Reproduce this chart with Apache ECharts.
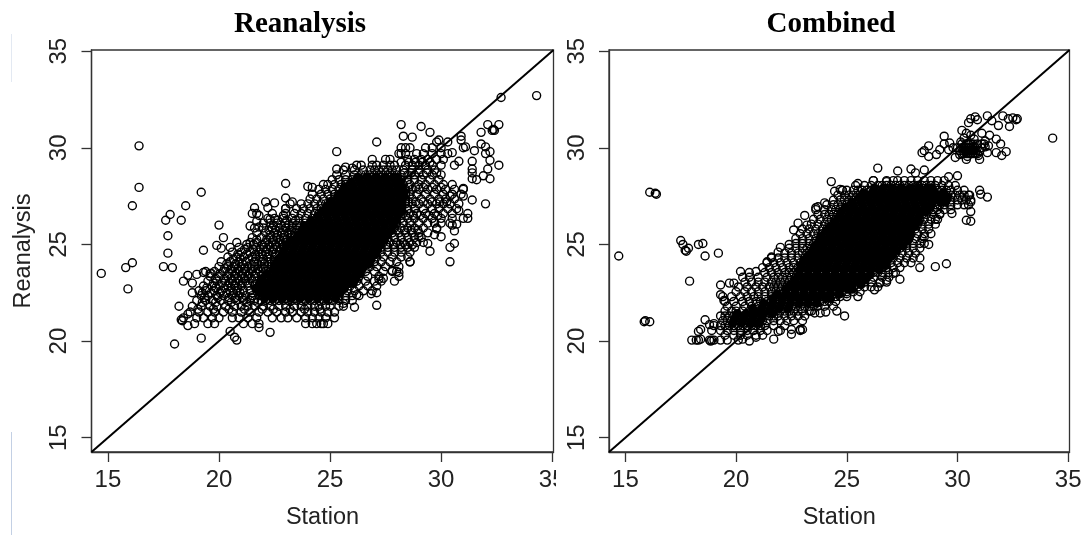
<!DOCTYPE html>
<html><head><meta charset="utf-8">
<style>html,body{margin:0;padding:0;background:#fff}#c{width:1085px;height:535px}</style>
<script src="https://cdn.jsdelivr.net/npm/echarts@6/dist/echarts.min.js"></script>
</head><body><div id="c"></div>
<script>
const panelTitles = ['Reanalysis', 'Combined'];
const xAxisName = 'Station';
const yAxisName = 'Reanalysis';
const tickValues = [15, 20, 25, 30, 35];
const axisMin = 14.26;
const axisMax = 35.06;
const identityLine = [[14.26, 14.26], [35.06, 35.06]];

const reanalysisOutliers = [[14.7,23.5],[15.8,23.8],[16.1,24.05],[15.9,22.7],[16.1,27],[16.4,27.95],[16.4,30.1],[17.5,23.85],[17.9,23.8],[17.7,24.55],[17.7,25.45],[17.6,26.25],[17.8,26.55],[18.3,26.25],[18.5,27],[19.2,27.7],[19.3,24.7],[18,19.85],[19.2,20.15],[34.3,32.7],[32.7,32.6],[20.5,20.5],[20.7,20.2],[20.8,20.05],[22.3,20.45],[21.8,20.7],[18.6,20.8],[18.3,21.1],[18.35,21.05],[18.2,21.8],[18.6,21.4],[18.8,22.5],[18.8,23],[18.4,23.1],[18.6,23.4],[19,23.45],[19.3,23.55],[19.6,23.5],[19.9,24.95],[20.1,24.8],[20.2,25.35],[20,26],[23,28.15],[24,28],[24.2,27.95],[24.7,28.1],[23,27.4],[22.1,27.2],[22.5,27.15],[23.3,27.2],[22.2,26.9],[21.6,26.9],[21.5,26.6],[21.8,26.5],[23,26.85],[22.9,26.5],[25.3,28.9],[25.7,29],[26,28.95],[21.4,25.95],[21.7,26.2],[21.8,25.9],[22.3,26.3],[28.2,31.2],[29.1,31.1],[27.1,30.3],[25.3,29.8],[29.5,30.8],[28.3,30.6],[28.7,30.55],[31.8,30.8],[32.1,31.2],[32.6,31.2],[32.3,30.9],[32.4,30.9],[32.35,30.95],[30.9,30.6],[30.9,30.4],[29.9,30.4],[29.8,30.3],[30.3,30.3],[31.1,30.05],[31,30],[31.8,30.2],[32,30.05],[32.2,29.8],[32,29.7],[31.5,29.85],[32.2,29.35],[32.6,29.1],[32.1,28.9],[31.9,28.55],[32.2,28.4],[31.4,29.3],[31.4,28.9],[31.4,28.7],[31.4,28.4],[31.6,28.35],[30.8,29.3],[30.6,29.1],[30.5,29.75],[31,27.9],[31.4,27.3],[32,27.1],[31,27.5],[31.2,26.35],[31,26.35],[30.8,26.75],[30.4,27.5],[30.5,26],[30.7,26.05],[30.6,25.7],[30.6,25.05],[30.4,24.85],[30.4,24.1],[30,25.4],[29.7,25.5],[29.8,25.8],[29.5,24.65],[29.4,25.05],[29,25.4],[28.6,24.1],[28.1,23.55],[27.8,23.65],[27.9,23.1],[27.4,23.25],[27.2,23.2],[27.1,22.5],[27.1,21.85],[26.1,21.75],[25.6,21.95],[24.6,20.9],[26.2,22.4],[26.85,22.45]];

const reanalysisRows = [
[20.9,18.9,19.5,19.8,21.1,21.5,21.8,23.9,24.2,24.4,24.7,24.9],
[21.2,18.4,19,19.3,19.7,20,20.6,20.9,21.3,21.7,22.4,22.8,23.1,23.5,23.9,24.2,24.5,24.8,25.2],
[21.5,18.7,19.1,19.5,19.8,20.2,20.6,21,21.4,21.8,22.2,22.6,23,23.3,23.7,24,24.3,24.6,24.9,25.2],
[21.8,18.8,19.2,19.6,19.9,20.3,20.7,21,21.3,21.6,22,22.3,22.7,23,23.4,23.7,24,24.3,24.5,24.8,25,25.4,25.6],
[22.1,19,19.4,19.7,20.1,20.4,20.8,21.1,21.4,21.6,21.9,22.1,22.3,22.5,22.7,22.9,23.1,23.3,23.5,23.7,23.9,24.1,24.3,24.5,24.7,24.9,25.1,25.4,25.7,26],
[22.35,19.2,19.5,19.9,20.2,20.6,20.9,21.2,21.5,21.8,22,22.2,22.4,22.6,22.8,23,23.2,23.4,23.6,23.8,24,24.2,24.4,24.6,24.8,25,25.2,25.4,25.7,26,26.3],
[22.6,19.1,19.4,19.8,20.1,20.5,20.8,21.1,21.4,21.7,21.9,22.1,22.3,22.5,22.7,22.9,23.1,23.3,23.5,23.7,23.9,24.1,24.3,24.5,24.7,24.9,25.1,25.3,25.5,25.8,26.1,26.5,26.9],
[22.85,19.3,19.7,20,20.4,20.7,21,21.3,21.6,21.8,22,22.2,22.4,22.6,22.8,23,23.2,23.4,23.6,23.8,24,24.2,24.4,24.6,24.8,25,25.2,25.4,25.6,25.9,26.3,26.7,27.1],
[23.1,19.5,19.9,20.3,20.6,20.9,21.2,21.5,21.7,21.9,22.1,22.3,22.5,22.7,22.9,23.1,23.3,23.5,23.7,23.9,24.1,24.3,24.5,24.7,24.9,25.1,25.3,25.5,25.7,25.9,26.2,26.6,27,27.3],
[23.35,19.6,20,20.4,20.7,21,21.3,21.6,21.9,22.2,22.4,22.6,22.8,23,23.2,23.4,23.6,23.8,24,24.2,24.4,24.6,24.8,25,25.2,25.4,25.6,25.8,26,26.3,26.7,27.2,28.1],
[23.6,19.4,19.8,20.2,20.6,20.9,21.2,21.5,21.8,22.1,22.3,22.5,22.7,22.9,23.1,23.3,23.5,23.7,23.9,24.1,24.3,24.5,24.7,24.9,25.1,25.3,25.5,25.7,25.9,26.1,26.3,26.6,27,27.4,27.8,28],
[23.85,20,20.4,20.7,21,21.3,21.6,21.9,22.2,22.5,22.7,22.9,23.1,23.3,23.5,23.7,23.9,24.1,24.3,24.5,24.7,24.9,25.1,25.3,25.5,25.7,25.9,26.1,26.3,26.5,26.8,27.1,27.5,28.1],
[24.1,20.1,20.5,20.9,21.2,21.6,21.9,22.2,22.5,22.7,22.9,23.1,23.3,23.5,23.7,23.9,24.1,24.3,24.5,24.7,24.9,25.1,25.3,25.5,25.7,25.9,26.1,26.3,26.5,26.7,27,27.3,27.7,28,28.6],
[24.35,20.4,20.8,21.1,21.5,21.8,22.2,22.5,22.8,23,23.2,23.4,23.6,23.8,24,24.2,24.4,24.6,24.8,25,25.2,25.4,25.6,25.8,26,26.2,26.4,26.6,26.8,27.1,27.4,27.8,28.2,28.5],
[24.6,20.6,21,21.4,21.8,22.1,22.4,22.7,23,23.2,23.4,23.6,23.8,24,24.2,24.4,24.6,24.8,25,25.2,25.4,25.6,25.8,26,26.2,26.4,26.6,26.8,27,27.3,27.6,27.9,28.2,28.6],
[24.85,20.5,20.9,21.3,21.7,22,22.3,22.6,22.9,23.1,23.3,23.5,23.7,23.9,24.1,24.3,24.5,24.7,24.9,25.1,25.3,25.5,25.7,25.9,26.1,26.3,26.5,26.7,26.9,27.1,27.3,27.6,27.9,28.2,28.5,28.8],
[25.1,20.8,21.4,21.7,22.1,22.4,22.7,23,23.2,23.4,23.6,23.8,24,24.2,24.4,24.6,24.8,25,25.2,25.4,25.6,25.8,26,26.2,26.4,26.6,26.8,27,27.2,27.4,27.7,28,28.3,28.6,28.9,29.2],
[25.35,21.5,21.9,22.3,22.6,22.9,23.2,23.4,23.6,23.8,24,24.2,24.4,24.6,24.8,25,25.2,25.4,25.6,25.8,26,26.2,26.4,26.6,26.8,27,27.2,27.4,27.6,27.9,28.2,28.5,28.8,29.1],
[25.6,21.7,22.1,22.5,22.8,23.1,23.4,23.6,23.8,24,24.2,24.4,24.6,24.8,25,25.2,25.4,25.6,25.8,26,26.2,26.4,26.6,26.8,27,27.2,27.4,27.6,27.8,28.1,28.4,28.7,29,29.4],
[25.85,21.6,22,22.4,22.7,23,23.3,23.6,23.8,24,24.2,24.4,24.6,24.8,25,25.2,25.4,25.6,25.8,26,26.2,26.4,26.6,26.8,27,27.2,27.4,27.6,27.9,28.2,28.5,28.8,29.2,29.8],
[26.1,22,22.3,22.6,23,23.3,23.6,23.9,24.1,24.3,24.5,24.7,24.9,25.1,25.3,25.5,25.7,25.9,26.1,26.3,26.5,26.7,26.9,27.1,27.3,27.5,27.7,28,28.3,28.6,29,29.4,29.7,30,30.4],
[26.35,22.2,22.5,22.9,23.3,23.6,23.9,24.2,24.4,24.6,24.8,25,25.2,25.4,25.6,25.8,26,26.2,26.4,26.6,26.8,27,27.2,27.4,27.6,27.8,28,28.2,28.5,28.8,29.2,29.6,30,30.5],
[26.6,21.7,22.4,23,23.4,23.7,24,24.3,24.5,24.7,24.9,25.1,25.3,25.5,25.7,25.9,26.1,26.3,26.5,26.7,26.9,27.1,27.3,27.5,27.7,27.9,28.1,28.3,28.6,28.9,29.3,29.7,30.1,30.5,31.2],
[26.85,23,23.5,23.8,24.1,24.4,24.6,24.8,25,25.2,25.4,25.6,25.8,26,26.2,26.4,26.6,26.8,27,27.2,27.4,27.6,27.8,28,28.2,28.5,28.8,29.2,29.6,29.9,30.3,30.7],
[27.1,23.2,23.7,24,24.3,24.6,24.8,25,25.2,25.4,25.6,25.8,26,26.2,26.4,26.6,26.8,27,27.2,27.4,27.6,27.8,28,28.2,28.4,28.7,29,29.4,29.8,30.1,30.4,30.8],
[27.35,24.1,24.4,24.7,25,25.2,25.4,25.6,25.8,26,26.2,26.4,26.6,26.8,27,27.2,27.4,27.6,27.8,28,28.2,28.4,28.7,29.1,29.5,29.9,30.2,30.6],
[27.6,24.2,24.6,24.9,25.2,25.4,25.6,25.8,26,26.2,26.4,26.6,26.8,27,27.2,27.4,27.6,27.8,28,28.2,28.4,28.6,28.9,29.3,29.7,30.1,30.5,30.9],
[27.85,24.5,24.8,25.1,25.4,25.6,25.8,26,26.2,26.4,26.6,26.8,27,27.2,27.4,27.6,27.8,28,28.2,28.4,28.7,29,29.4,29.8,30.2,30.6,31],
[28.1,24.9,25.2,25.5,25.7,25.9,26.1,26.3,26.5,26.7,26.9,27.1,27.3,27.5,27.7,27.9,28.1,28.3,28.6,29,29.3,29.7,30.1,30.5],
[28.35,25.1,25.4,25.7,26,26.2,26.4,26.6,26.8,27,27.2,27.4,27.6,27.8,28,28.2,28.5,28.8,29.1,29.5,29.9],
[28.6,25.3,25.7,26.1,26.4,26.6,26.8,27,27.2,27.4,27.6,27.8,28,28.2,28.5,28.8,29.2,29.6,30],
[28.85,25.6,26.1,26.5,26.8,27,27.2,27.4,27.6,27.8,28,28.3,28.7,29,29.4,29.7],
[29.1,26.2,26.4,26.9,27.1,27.4,27.7,27.9,28.4,28.7,29,29.3,29.6,30],
[29.4,26.9,27.5,27.7,28.5,28.8,29.1,29.4,29.8,30.1],
[29.7,28.1,28.2,28.4,28.9,29.2,29.6,30,30.3],
[30,28.2,28.4,28.6,29.3,29.6,30],
[21.65,19.05,19.75,20.45,21.15,21.95,22.45,23.2,23.85,24.55],
[22,19.25,19.85,20.55,21.25,21.75],
[22.25,19.35,19.95,20.45,20.75,21.05,21.45],
[22.5,19.25,19.65,20.05,20.35,20.65,20.95],
[22.75,19.45,19.85,20.25,20.55,20.85],
[23,19.75,20.15,20.45,20.75,21.05,21.3],
[23.25,19.85,20.25,20.55,20.85,21.15,21.45],
[23.5,19.65,20.05,20.45,20.75,21.05,21.35,21.65],
[23.75,20.25,20.55,20.85,21.15,21.45,21.75,22],
[24,20.35,20.75,21.05,21.45,21.75,22.05,22.35],
[24.25,20.65,20.95,21.35,21.65,22,22.3],
[24.5,20.85,21.25,21.65,21.95,22.25,22.55],
[24.75,21.15,21.55,21.85,22.15,22.45,22.75],
[25,21.25,21.55,21.95,22.25,22.55,22.85],
[25.25,21.7,22.15,22.45,22.75,23.05],
[25.5,22.3,22.65,22.95,23.25],
[25.75,22.25,22.55,22.9,23.2,23.5],
[26,22.45,22.8,23.15,23.5],
[26.25,22.65,23.05,23.45],
[24.98,27.55,27.85,28.15,28.4,28.7],
[25.75,28,28.35,28.65,28.95],
[26.5,28.4,28.75,29.05,29.45,29.85],
[27.2,28.55,28.85,29.2,29.6,29.95,30.25],
[27.95,28.55,28.85,29.2,29.6,30],
[28.7,28.35,28.65,29,29.35,29.8],
[29.25,28.2,28.55,28.85,29.15,29.5]
];

const reanalysisCoreRows = [
[22.2,22.05,22.45,22.85,23.25,23.65,24.05,24.45,24.85,25.25],
[22.48,21.85,22.25,22.65,23.05,23.45,23.85,24.25,24.65,25.05,25.45],
[22.72,21.65,22.05,22.45,22.85,23.25,23.65,24.05,24.45,24.85,25.25,25.65],
[22.98,21.85,22.25,22.65,23.05,23.45,23.85,24.25,24.65,25.05,25.45,25.85,26.05],
[23.22,21.95,22.35,22.75,23.15,23.55,23.95,24.35,24.75,25.15,25.55,25.95,26.15],
[23.48,22.15,22.55,22.95,23.35,23.75,24.15,24.55,24.95,25.35,25.75,26.15,26.35],
[23.72,22.45,22.85,23.25,23.65,24.05,24.45,24.85,25.25,25.65,26.05,26.45],
[23.98,22.55,22.95,23.35,23.75,24.15,24.55,24.95,25.35,25.75,26.15,26.55,26.75],
[24.22,22.65,23.05,23.45,23.85,24.25,24.65,25.05,25.45,25.85,26.25,26.65,26.85],
[24.48,22.85,23.25,23.65,24.05,24.45,24.85,25.25,25.65,26.05,26.45,26.85,27.05],
[24.72,22.95,23.35,23.75,24.15,24.55,24.95,25.35,25.75,26.15,26.55,26.95,27.15],
[24.98,23.05,23.45,23.85,24.25,24.65,25.05,25.45,25.85,26.25,26.65,27.05,27.25],
[25.22,23.25,23.65,24.05,24.45,24.85,25.25,25.65,26.05,26.45,26.85,27.25,27.45],
[25.48,23.55,23.95,24.35,24.75,25.15,25.55,25.95,26.35,26.75,27.15,27.55],
[25.72,23.75,24.15,24.55,24.95,25.35,25.75,26.15,26.55,26.95,27.35,27.75],
[25.98,23.85,24.25,24.65,25.05,25.45,25.85,26.25,26.65,27.05,27.45,27.85],
[26.22,24.15,24.55,24.95,25.35,25.75,26.15,26.55,26.95,27.35,27.75,27.95],
[26.48,24.45,24.85,25.25,25.65,26.05,26.45,26.85,27.25,27.65,28.05],
[26.72,24.65,25.05,25.45,25.85,26.25,26.65,27.05,27.45,27.85,28.25],
[26.98,24.85,25.25,25.65,26.05,26.45,26.85,27.25,27.65,28.05,28.25],
[27.22,25.05,25.45,25.85,26.25,26.65,27.05,27.45,27.85,28.25],
[27.48,25.35,25.75,26.15,26.55,26.95,27.35,27.75,28.15,28.35],
[27.72,25.55,25.95,26.35,26.75,27.15,27.55,27.95,28.35],
[27.98,25.65,26.05,26.45,26.85,27.25,27.65,28.05,28.25],
[28.22,25.95,26.35,26.75,27.15,27.55,27.95,28.15],
[28.48,26.25,26.65,27.05,27.45,27.85,28.05]
];

const combinedOutliers = [[14.7,24.4],[15.85,21],[15.9,21.05],[16.1,21],[16.1,27.7],[16.4,27.6],[16.35,27.65],[17.5,25.2],[17.6,25],[17.7,24.7],[17.75,24.65],[17.85,24.8],[18.3,25],[18.5,25.05],[18.6,24.4],[19.2,24.55],[17.9,23.1],[34.3,30.5],[18,20.05],[18.2,20.05],[18.3,20.05],[18.4,20.1],[18.8,20.05],[18.85,20],[18.9,20.05],[19,20.05],[19.3,20.05],[19.6,20.05],[20.1,20.05],[20.3,20.1],[20.6,20],[20.9,20.2],[21.7,20.1],[21.9,20.5],[22.5,20.35],[22.5,20.6],[22.9,20.6],[23,20.6],[18.6,21.1],[18.3,20.5],[18.4,20.6],[18.8,20.85],[19,20.9],[19.3,21.3],[19.3,22.4],[19.4,22.3],[19.45,22.1],[19.3,22.9],[19.7,23],[19.9,23],[20.2,23.6],[20.6,23.55],[20.9,23.6],[20.3,23.3],[21.6,24.35],[21.4,24.1],[21.9,24.6],[22,24.85],[22.4,25],[22.6,25.75],[22.8,26.1],[23.1,26.5],[23.2,26],[23.6,26.9],[23.7,26.95],[24,27.15],[24.3,28.25],[24.45,27.75],[24.7,27.85],[24.8,27.8],[25.5,28.15],[26.2,28.3],[26.4,28.95],[26.8,28.25],[27.3,28.8],[27.9,28.9],[28.1,28.7],[28.5,28.85],[28.4,29.75],[28.5,29.85],[28.7,30.1],[28.7,29.55],[29.05,29.65],[29.2,29.9],[29.4,30.6],[29.4,30.2],[29.65,30.25],[29.6,29.9],[29.9,29.5],[30.2,30.9],[30.4,30.75],[30.5,31.3],[30.6,31.5],[30.8,31.6],[30.9,31.45],[31.35,31.65],[31.55,31.4],[31.85,31.15],[32.05,31.65],[32.3,31.5],[32.35,31.1],[32.5,31.55],[32.7,31.5],[32.65,31.45],[31.75,30.45],[31.45,30.65],[31.1,30.75],[31.95,30.2],[32.2,29.8],[32,29.6],[31.75,29.75],[31.35,29.75],[31,29.4],[30.4,29.4],[30,28.55],[29.6,28.5],[31,27.8],[31.05,27.6],[31.35,27.45],[30.55,27.55],[30.6,27.2],[30.6,26.7],[30.4,26.25],[30.6,26.2],[29.75,26.6],[29.2,26.6],[29,26.3],[28.7,25],[28.5,25.4],[28.3,24.3],[28.3,23.8],[29,23.85],[29.5,24],[27.4,23.2],[27.1,23.5],[26.8,23.15],[26.5,23],[26.25,22.65],[25.5,22.3],[25,22.45],[24.9,21.3],[24.55,21.55],[24.05,21.5],[23.8,21.45],[23.55,21.45],[30.1,29.65],[30.15,30.3],[30.3,30.5],[30.45,29.55],[30.6,30.65],[30.75,30.45],[30.95,29.6],[31.1,30.2],[31.25,30.35],[31.25,30.05],[31.4,30.1]];

const combinedRows = [
[20.3,19.5,19.9,20.2,20.5,20.9,21.2],
[20.55,18.9,19.3,19.6,19.9,20.2,20.5,20.8,21.1,21.4,22,22.9],
[20.8,19,19.3,19.5,19.7,19.9,20.1,20.3,20.5,20.7,20.9,21.1,21.3,21.7,22.2],
[21.05,19.4,19.6,19.8,20,20.2,20.4,20.6,20.8,21,21.2,21.4,21.7,22,22.3,22.6,23],
[21.3,19.5,19.7,19.9,20.1,20.3,20.5,20.7,20.9,21.1,21.3,21.5,21.7,21.9,22.2,22.5,22.8,23.1],
[21.55,19.5,19.8,20,20.3,20.6,20.8,21,21.2,21.4,21.6,21.8,22,22.2,22.4,22.6,22.8,23,23.3,23.4],
[21.8,19.6,20,20.4,20.7,21,21.3,21.5,21.7,21.9,22.1,22.3,22.5,22.7,22.9,23.1,23.3,23.5,23.7,24,24.4],
[22.05,19.5,19.9,20.3,20.6,20.9,21.1,21.4,21.6,21.8,22,22.2,22.4,22.6,22.8,23,23.2,23.4,23.6,23.8,24,24.2,24.5],
[22.3,19.8,20.2,20.5,20.8,21,21.3,21.6,21.9,22.1,22.3,22.5,22.7,22.9,23.1,23.3,23.5,23.7,23.9,24.1,24.3,24.5,24.7,25],
[22.55,20,20.4,20.7,21,21.3,21.6,21.8,22,22.2,22.4,22.6,22.8,23,23.2,23.4,23.6,23.8,24,24.2,24.4,24.6,24.8,25,25.3,25.6],
[22.8,20.1,20.5,20.9,21.2,21.5,21.7,21.9,22.1,22.3,22.5,22.7,22.9,23.1,23.3,23.5,23.7,23.9,24.1,24.3,24.5,24.7,24.9,25.1,25.3,25.5,25.8,26.1,26.4],
[23.05,20.4,20.7,21,21.3,21.6,21.8,22,22.2,22.4,22.6,22.8,23,23.2,23.4,23.6,23.8,24,24.2,24.4,24.6,24.8,25,25.2,25.4,25.6,25.8,26.1,26.5,26.8],
[23.3,20.6,21,21.4,21.7,21.9,22.1,22.3,22.5,22.7,22.9,23.1,23.3,23.5,23.7,23.9,24.1,24.3,24.5,24.7,24.9,25.1,25.3,25.5,25.7,25.9,26.2,26.6,26.9],
[23.55,21.3,21.6,21.9,22.2,22.4,22.6,22.8,23,23.2,23.4,23.6,23.8,24,24.2,24.4,24.6,24.8,25,25.2,25.4,25.6,25.8,26,26.2,26.4,26.6,26.9,27.2],
[23.8,21.2,21.5,21.8,22.1,22.4,22.6,22.8,23,23.2,23.4,23.6,23.8,24,24.2,24.4,24.6,24.8,25,25.2,25.4,25.6,25.8,26,26.2,26.4,26.6,26.8,27.1,27.4],
[24.05,21.4,21.7,22,22.3,22.6,22.9,23.1,23.3,23.5,23.7,23.9,24.1,24.3,24.5,24.7,24.9,25.1,25.3,25.5,25.7,25.9,26.1,26.3,26.5,26.7,27,27.3,27.6,27.9],
[24.3,21.6,21.9,22.2,22.5,22.8,23.1,23.3,23.5,23.7,23.9,24.1,24.3,24.5,24.7,24.9,25.1,25.3,25.5,25.7,25.9,26.1,26.3,26.5,26.7,26.9,27.1,27.4,27.7,28],
[24.55,22.2,22.5,22.8,23,23.2,23.4,23.6,23.8,24,24.2,24.4,24.6,24.8,25,25.2,25.4,25.6,25.8,26,26.2,26.4,26.6,26.8,27,27.2,27.5,27.8,28.1],
[24.8,22.4,22.7,23,23.2,23.4,23.6,23.8,24,24.2,24.4,24.6,24.8,25,25.2,25.4,25.6,25.8,26,26.2,26.4,26.6,26.8,27,27.2,27.4,27.7,28,28.3],
[25.05,22.7,23,23.3,23.5,23.7,23.9,24.1,24.3,24.5,24.7,24.9,25.1,25.3,25.5,25.7,25.9,26.1,26.3,26.5,26.7,26.9,27.1,27.3,27.5,27.7,28,28.3,28.5],
[25.3,22.7,23,23.3,23.6,23.8,24,24.2,24.4,24.6,24.8,25,25.2,25.4,25.6,25.8,26,26.2,26.4,26.6,26.8,27,27.2,27.4,27.6,27.8,28.1,28.4],
[25.55,22.9,23.2,23.5,23.7,23.9,24.1,24.3,24.5,24.7,24.9,25.1,25.3,25.5,25.7,25.9,26.1,26.3,26.5,26.7,26.9,27.1,27.3,27.5,27.7,27.9,28.2,28.5,28.8],
[25.8,23,23.3,23.6,23.9,24.1,24.3,24.5,24.7,24.9,25.1,25.3,25.5,25.7,25.9,26.1,26.3,26.5,26.7,26.9,27.1,27.3,27.5,27.7,27.9,28.1,28.4,28.7],
[26.05,23.4,23.7,24,24.2,24.4,24.6,24.8,25,25.2,25.4,25.6,25.8,26,26.2,26.4,26.6,26.8,27,27.2,27.4,27.6,27.8,28,28.2,28.4,28.7,29],
[26.3,23.5,23.8,24.1,24.3,24.5,24.7,24.9,25.1,25.3,25.5,25.7,25.9,26.1,26.3,26.5,26.7,26.9,27.1,27.3,27.5,27.7,27.9,28.1,28.3,28.5,28.8,29.1],
[26.55,23.7,24,24.2,24.4,24.6,24.8,25,25.2,25.4,25.6,25.8,26,26.2,26.4,26.6,26.8,27,27.2,27.4,27.6,27.8,28,28.2,28.4,28.6,28.9,29.2],
[26.8,23.6,24,24.3,24.5,24.7,24.9,25.1,25.3,25.5,25.7,25.9,26.1,26.3,26.5,26.7,26.9,27.1,27.3,27.5,27.7,27.9,28.1,28.3,28.5,28.7,28.9,29.1,29.4,29.7],
[27.05,24.1,24.4,24.6,24.8,25,25.2,25.4,25.6,25.8,26,26.2,26.4,26.6,26.8,27,27.2,27.4,27.6,27.8,28,28.2,28.4,28.6,28.8,29,29.2,29.4,29.7,30,30.3,30.5],
[27.3,24.4,24.7,24.9,25.1,25.3,25.5,25.7,25.9,26.1,26.3,26.5,26.7,26.9,27.1,27.3,27.5,27.7,27.9,28.1,28.3,28.5,28.7,28.9,29.1,29.3,29.5,29.7,30,30.2,30.4,30.6],
[27.55,24.6,24.9,25.1,25.3,25.5,25.7,25.9,26.1,26.3,26.5,26.7,26.9,27.1,27.3,27.5,27.7,27.9,28.1,28.3,28.5,28.7,28.9,29.1,29.3,29.5,29.7,29.9,30.1,30.3,30.5],
[27.8,24.8,25,25.3,25.5,25.7,25.9,26.1,26.3,26.5,26.7,26.9,27.1,27.3,27.5,27.7,27.9,28.1,28.3,28.5,28.7,28.9,29.1,29.3,29.5,29.7,30,30.3],
[28.05,25.4,25.8,26.1,26.4,26.6,26.8,27,27.2,27.4,27.6,27.8,28,28.2,28.4,28.6,28.8,29,29.3,29.6,29.9],
[28.3,26.2,26.8,27.1,27.3,27.6,27.9,28.2,28.5,28.8,29.1,29.4],
[29.7,30.2,30.3,30.4,30.5,30.6,30.7,30.8,30.9],
[29.85,30.1,30.25,30.35,30.45,30.55,30.65,30.75,30.85,31],
[30,29.8,30,30.2,30.3,30.4,30.5,30.6,30.7,30.8,31.1],
[30.2,30.2,30.4,30.5,30.6,30.7,30.9,31.2]
];

const combinedCoreRows = [
[20.92,19.85,20.25,20.65,21.05],
[21.18,19.95,20.35,20.75,21.15],
[21.42,20.05,20.45,20.85,21.25,21.65],
[21.68,20.75,21.15,21.55,21.95,22.35],
[21.95,21.25,21.65,22.05,22.45,22.85,23.25,23.65],
[22.2,21.65,22.05,22.45,22.85,23.25,23.65,24.05,24.25],
[22.42,21.85,22.25,22.65,23.05,23.45,23.85,24.25,24.65],
[22.68,22.25,22.65,23.05,23.45,23.85,24.25,24.65,25.05,25.25],
[22.92,22.45,22.85,23.25,23.65,24.05,24.45,24.85,25.25,25.65],
[23.18,22.65,23.05,23.45,23.85,24.25,24.65,25.05,25.45,25.85],
[23.42,22.85,23.25,23.65,24.05,24.45,24.85,25.25,25.65,26.05],
[23.68,22.85,23.25,23.65,24.05,24.45,24.85,25.25,25.65,26.05,26.45],
[23.92,22.95,23.35,23.75,24.15,24.55,24.95,25.35,25.75,26.15,26.55,26.75],
[24.18,23.05,23.45,23.85,24.25,24.65,25.05,25.45,25.85,26.25,26.65,26.85],
[24.42,23.25,23.65,24.05,24.45,24.85,25.25,25.65,26.05,26.45,26.85,27.05],
[24.68,23.45,23.85,24.25,24.65,25.05,25.45,25.85,26.25,26.65,27.05,27.25],
[24.92,23.55,23.95,24.35,24.75,25.15,25.55,25.95,26.35,26.75,27.15,27.55],
[25.18,23.75,24.15,24.55,24.95,25.35,25.75,26.15,26.55,26.95,27.35,27.75],
[25.42,23.85,24.25,24.65,25.05,25.45,25.85,26.25,26.65,27.05,27.45,27.85],
[25.68,24.05,24.45,24.85,25.25,25.65,26.05,26.45,26.85,27.25,27.65,27.85],
[25.92,24.25,24.65,25.05,25.45,25.85,26.25,26.65,27.05,27.45,27.85,28.05],
[26.18,24.45,24.85,25.25,25.65,26.05,26.45,26.85,27.25,27.65,28.05,28.25],
[26.42,24.65,25.05,25.45,25.85,26.25,26.65,27.05,27.45,27.85,28.25],
[26.68,24.75,25.15,25.55,25.95,26.35,26.75,27.15,27.55,27.95,28.35,28.55],
[26.92,24.95,25.35,25.75,26.15,26.55,26.95,27.35,27.75,28.15,28.55,28.75],
[27.18,25.25,25.65,26.05,26.45,26.85,27.25,27.65,28.05,28.45,28.85,29.25,29.45],
[27.42,25.55,25.95,26.35,26.75,27.15,27.55,27.95,28.35,28.75,29.15,29.55],
[27.68,25.75,26.15,26.55,26.95,27.35,27.75,28.15,28.55,28.95,29.35],
[27.92,26.25,26.65,27.05,27.45,27.85,28.25,28.65,28.85],
[29.9,30.35,30.55,30.75]
];

function expandRows(rows) {
  return rows.flatMap(r => r.slice(1).map(x => [x, r[0]]));
}
const reanalysisRingPoints = reanalysisOutliers.concat(expandRows(reanalysisRows));
const reanalysisCorePoints = expandRows(reanalysisCoreRows);
const combinedRingPoints = combinedOutliers.concat(expandRows(combinedRows));
const combinedCorePoints = expandRows(combinedCoreRows);

const chart = echarts.init(document.getElementById('c'), null, {renderer: 'canvas'});
const font = 'Liberation Sans, Arial, sans-serif';
const grids = [{left: 91.5, top: 50, width: 462, height: 404}, {left: 609, top: 50, width: 460.5, height: 404}];
const axisColor = '#333';
function xAxis(i) {
  return {gridIndex: i, type: 'value', min: axisMin, max: axisMax, name: xAxisName, nameLocation: 'middle', nameGap: 54,
    nameTextStyle: {fontFamily: font, fontSize: 23.5, color: '#222'},
    splitLine: {show: false}, axisLine: {show: true, onZero: false, lineStyle: {color: axisColor, width: 1.3}},
    axisTick: {show: true, length: 10, lineStyle: {color: axisColor, width: 1.3}, customValues: tickValues},
    axisLabel: {show: true, margin: 16, fontFamily: font, fontSize: 24, color: '#222', customValues: tickValues, hideOverlap: false, showMinLabel: true, showMaxLabel: true}};
}
function yAxis(i) {
  return {gridIndex: i, type: 'value', min: axisMin, max: axisMax, name: i === 0 ? yAxisName : '', nameLocation: 'middle', nameGap: 56, nameRotate: 90,
    nameTextStyle: {fontFamily: font, fontSize: 23.5, color: '#222'},
    splitLine: {show: false}, axisLine: {show: true, onZero: false, lineStyle: {color: axisColor, width: 1.3}},
    axisTick: {show: true, length: 10, lineStyle: {color: axisColor, width: 1.3}, customValues: tickValues},
    axisLabel: {show: true, rotate: 90, margin: 20, fontFamily: font, fontSize: 24, color: '#222', customValues: tickValues, hideOverlap: false, verticalAlign: 'bottom', align: 'center'}};
}
function dots(i, data) {
  return {type: 'scatter', xAxisIndex: i, yAxisIndex: i, data, symbol: 'circle', symbolSize: 8, large: false, progressive: 0, silent: true, z: 3,
    itemStyle: {color: 'rgba(0,0,0,0)', borderColor: '#000', borderWidth: 1.4, opacity: 1}};
}
function core(i, data) {
  return {type: 'scatter', xAxisIndex: i, yAxisIndex: i, data, symbol: 'circle', symbolSize: 9, large: false, progressive: 0, silent: true, z: 3,
    itemStyle: {color: '#000', borderWidth: 0, opacity: 1}};
}
function diagonal(i) {
  return {type: 'line', xAxisIndex: i, yAxisIndex: i, data: identityLine, symbol: 'none', silent: true, z: 2, clip: true, lineStyle: {color: '#000', width: 2}};
}
const titleFont = 'Liberation Serif, Times New Roman, serif';
chart.setOption({
  animation: false,
  backgroundColor: '#fff',
  title: [
    {text: panelTitles[0], left: 295, top: 5, textAlign: 'center', textStyle: {fontFamily: titleFont, fontWeight: 'bold', fontSize: 29, color: '#000'}},
    {text: panelTitles[1], left: 826, top: 5, textAlign: 'center', textStyle: {fontFamily: titleFont, fontWeight: 'bold', fontSize: 29, color: '#000'}}
  ],
  grid: grids.map(g => Object.assign({show: true, borderColor: axisColor, borderWidth: 1.3, backgroundColor: 'transparent'}, g)),
  xAxis: [xAxis(0), xAxis(1)],
  yAxis: [yAxis(0), yAxis(1)],
  series: [diagonal(0), dots(0, reanalysisRingPoints), core(0, reanalysisCorePoints), diagonal(1), dots(1, combinedRingPoints), core(1, combinedCorePoints)],
  graphic: [
    {type: 'rect', z: 100, shape: {x: 556, y: 464, width: 11, height: 34}, style: {fill: '#fff'}},
    {type: 'line', z: 100, shape: {x1: 11.5, y1: 34, x2: 11.5, y2: 82}, style: {stroke: '#e3e9f2', lineWidth: 1}},
    {type: 'line', z: 100, shape: {x1: 11.5, y1: 432, x2: 11.5, y2: 535}, style: {stroke: '#c3d0e4', lineWidth: 1}}
  ]
});
</script></body></html>
